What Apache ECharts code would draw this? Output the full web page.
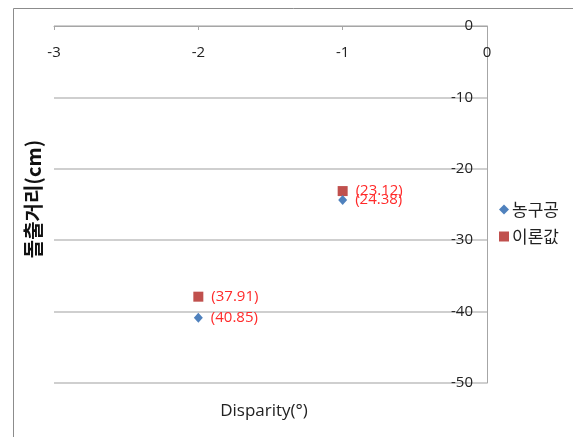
<!DOCTYPE html>
<html>
<head>
<meta charset="utf-8">
<script src="https://cdn.jsdelivr.net/npm/echarts@6/dist/echarts.min.js"></script>
<style>
  html, body { margin: 0; padding: 0; background: #fff; }
  #chart { width: 573px; height: 437px; }
</style>
</head>
<body>
<div id="chart"></div>
<script>
// Disparity (degrees) for each measurement
const disparity = [-1, -2];
// Protrusion distance in cm (plotted downward, below zero)
const ballDepth = [24.38, 40.85];
const theoryDepth = [23.12, 37.91];
const seriesNames = ['농구공', '이론값'];
const xTicks = { min: -3, max: 0, step: 1 };
const yTicks = { min: -50, max: 0, step: 10 };

const LATIN = '"Open Sans", "Noto Sans", sans-serif';
const KOREAN = '"Noto Sans CJK KR", "Noto Sans", sans-serif';

function points(depths) {
  return disparity.map((d, i) => ({ value: [d, -depths[i]], depth: depths[i] }));
}

const valueLabel = {
  show: true, position: 'right', distance: 8, color: '#ff2a2a', fontSize: 15, fontFamily: LATIN,
  formatter: p => '(' + p.data.depth.toFixed(2) + ')'
};

const chart = echarts.init(document.getElementById('chart'));
chart.setOption({
  animation: false,
  backgroundColor: '#ffffff',
  grid: { left: 54, right: 86, top: 26, bottom: 54 },
  xAxis: {
    type: 'value', position: 'top',
    min: xTicks.min, max: xTicks.max, interval: xTicks.step,
    axisLine: { show: true, onZero: false, lineStyle: { color: '#a6a6a6', width: 1 } },
    axisTick: { show: true, inside: true, length: 4, lineStyle: { color: '#a6a6a6' } },
    axisLabel: { inside: true, margin: 19, color: '#222', fontSize: 15, fontFamily: LATIN },
    splitLine: { show: false }
  },
  yAxis: {
    type: 'value', position: 'right',
    min: yTicks.min, max: yTicks.max, interval: yTicks.step,
    axisLine: { show: true, onZero: false, lineStyle: { color: '#a6a6a6', width: 1 } },
    axisTick: { show: false },
    axisLabel: { inside: true, margin: 14, color: '#222', fontSize: 15, fontFamily: LATIN },
    splitLine: { show: true, lineStyle: { color: '#bfbfbf', width: 1.5 } }
  },
  legend: {
    orient: 'vertical', left: 494, top: 196, itemGap: 10,
    itemWidth: 10, itemHeight: 10,
    textStyle: { fontSize: 17, color: '#222', fontFamily: KOREAN, padding: [0, 0, 0, -2] },
    data: [
      { name: seriesNames[0], icon: 'diamond' },
      { name: seriesNames[1], icon: 'rect' }
    ]
  },
  series: [
    {
      name: seriesNames[0], type: 'scatter', symbol: 'diamond', symbolSize: [9, 10],
      itemStyle: { color: '#4f81bd', opacity: 1 },
      data: points(ballDepth),
      label: valueLabel,
      z: 3
    },
    {
      name: seriesNames[1], type: 'scatter', symbol: 'rect', symbolSize: [10, 10],
      itemStyle: { color: '#c0504d', opacity: 1 },
      data: points(theoryDepth),
      label: valueLabel,
      z: 2
    }
  ],
  graphic: [
    {
      type: 'rect', left: 11, top: 6, z: -1, silent: true,
      shape: { width: 620, height: 460 },
      style: { fill: 'none', stroke: '#8c8c8c', lineWidth: 1 }
    },
    {
      type: 'text', x: 33, y: 199, rotation: Math.PI / 2,
      style: {
        text: '돌출거리(cm)', fill: '#111', fontSize: 20, fontWeight: 'bold', fontFamily: KOREAN,
        align: 'center', verticalAlign: 'middle'
      }
    },
    {
      type: 'text', x: 264, y: 411,
      style: {
        text: 'Disparity(°)', fill: '#222', fontSize: 17, fontFamily: LATIN,
        align: 'center', verticalAlign: 'middle'
      }
    }
  ]
});
</script>
</body>
</html>
